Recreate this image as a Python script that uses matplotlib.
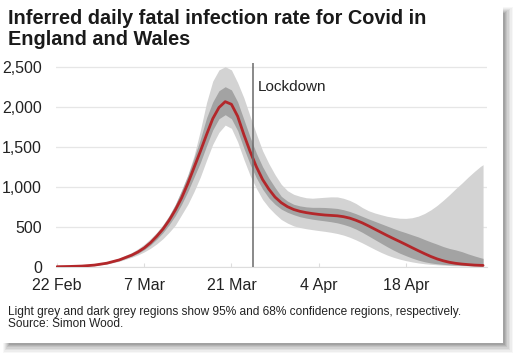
import numpy as np
import matplotlib.pyplot as plt
from matplotlib.patches import Rectangle

plt.rcParams['font.family'] = ['Liberation Sans', 'DejaVu Sans']

# days after 22 Feb 2020
days = [0, 2, 4, 6, 8, 10, 12] + list(range(13, 69)) + [68.4]
median = [0, 3, 8, 20, 44, 85, 145,
          185, 235, 300, 380, 470, 580, 710, 860, 1040, 1240,
          1440, 1650, 1850, 1990, 2063, 2030, 1880, 1650, 1440, 1250,
          1090, 970, 870, 800, 750, 715, 692, 676, 664, 654,
          646, 641, 636, 625, 607, 580, 548, 510, 470, 430,
          390, 352, 315, 277, 238, 200, 163, 128, 98, 74,
          55, 42, 33, 26, 20, 17,
          16]
lo68 = [0, 2, 6, 17, 39, 77, 132,
        168, 213, 270, 343, 425, 525, 640, 780, 940, 1120,
        1300, 1510, 1710, 1850, 1900, 1850, 1700, 1480, 1280, 1110,
        970, 860, 780, 720, 680, 650, 625, 608, 594, 583,
        573, 562, 548, 528, 503, 470, 430, 385, 340, 295,
        250, 208, 170, 138, 108, 82, 62, 47, 37, 29,
        24, 20, 17, 14, 12, 10,
        10]
hi68 = [1, 4, 10, 23, 50, 94, 160,
        204, 258, 330, 418, 515, 635, 780, 950, 1140, 1360,
        1590, 1860, 2060, 2200, 2250, 2210, 2060, 1840, 1620, 1420,
        1250, 1110, 990, 880, 820, 780, 760, 748, 742, 742,
        740, 735, 728, 712, 690, 662, 630, 598, 568, 538,
        508, 478, 450, 425, 398, 372, 340, 310, 282, 252,
        228, 210, 188, 160, 135, 112,
        104]
lo95 = [0, 1, 4, 13, 33, 68, 118,
        148, 185, 230, 285, 350, 430, 520, 650, 780, 940,
        1120, 1330, 1530, 1680, 1770, 1730, 1560, 1340, 1140, 980,
        840, 740, 660, 590, 545, 510, 490, 475, 463, 452,
        442, 430, 415, 395, 368, 335, 298, 258, 218, 180,
        146, 118, 95, 76, 60, 47, 37, 30, 24, 19,
        15, 12, 10, 8, 7, 6,
        5]
hi95 = [2, 6, 14, 30, 60, 108, 178,
        225, 282, 350, 430, 525, 640, 775, 960, 1150, 1390,
        1700, 2050, 2320, 2460, 2500, 2460, 2300, 2110, 1880, 1660,
        1450, 1290, 1150, 1030, 950, 905, 880, 862, 856, 862,
        868, 873, 872, 855, 828, 790, 740, 700, 672, 650,
        630, 616, 606, 604, 612, 632, 665, 710, 765, 830,
        900, 975, 1045, 1120, 1190, 1255,
        1275]

tick_days = [0, 14, 28, 42, 56]
tick_labels = ['22 Feb', '7 Mar', '21 Mar', '4 Apr', '18 Apr']
y_ticks = [0, 500, 1000, 1500, 2000, 2500]
lockdown_day = 31.4

fig = plt.figure(figsize=(5.19, 3.55), dpi=100)
fig.patch.set_facecolor('white')

# card with a soft drop shadow
W, H = 519, 355
for i, a in enumerate([0.03, 0.04, 0.05, 0.06, 0.07, 0.08, 0.09]):
    off = 10 - i * 1.4
    fig.patches.append(Rectangle(((3 + i) / W, (H - 343 - off) / H),
                                 (503 + off - 3 - i) / W, (343 + off - 7 - i) / H,
                                 transform=fig.transFigure, facecolor='black',
                                 alpha=a, edgecolor='none', zorder=-10))
fig.patches.append(Rectangle((0, (H - 343) / H), 503.3 / W, 343 / H,
                             transform=fig.transFigure, facecolor='white',
                             edgecolor='none', zorder=-9))

ax = fig.add_axes([55.8 / W, 1 - 266.7 / H, 431 / W, 204 / H])
ax.set_facecolor('none')

ax.fill_between(days, lo95, hi95, color='#d3d3d3', lw=0, zorder=2)
ax.fill_between(days, lo68, hi68, color='#a3a3a3', lw=0, zorder=3)
ax.plot(days, median, color='#b3272a', lw=2.0, zorder=4,
        solid_capstyle='round', solid_joinstyle='round')
ax.axvline(lockdown_day, color='#6a6a6a', lw=1.1, zorder=5)
ax.text(lockdown_day + 0.8, 2250, 'Lockdown', fontsize=11, color='#222222',
        va='center', ha='left')

ax.set_xlim(-0.2, 69)
ax.set_ylim(0, 2550)
ax.set_yticks(y_ticks)
ax.set_yticklabels([f'{v:,}' for v in y_ticks])
ax.set_xticks(tick_days)
ax.set_xticklabels(tick_labels)
ax.grid(axis='y', color='#e6e6e6', lw=0.9, zorder=0)
for s in ['top', 'right', 'left']:
    ax.spines[s].set_visible(False)
ax.spines['bottom'].set_color('#dddddd')
ax.tick_params(axis='y', length=0, labelsize=11.5, colors='#222222', pad=10)
ax.tick_params(axis='x', length=3, color='#dddddd', labelsize=11.5,
               labelcolor='#222222', pad=8, direction='in')

fig.text(8 / W, 1 - 9 / H, 'Inferred daily fatal infection rate for Covid in\nEngland and Wales',
         fontsize=14.3, fontweight='bold', va='top', ha='left', color='#1a1a1a',
         linespacing=1.12)
fig.text(8 / W, 1 - 306 / H,
         'Light grey and dark grey regions show 95% and 68% confidence regions, respectively.\n'
         'Source: Simon Wood.',
         fontsize=8.6, va='top', ha='left', color='#222222', linespacing=1.05)

fig.savefig('out.png', dpi=100)
